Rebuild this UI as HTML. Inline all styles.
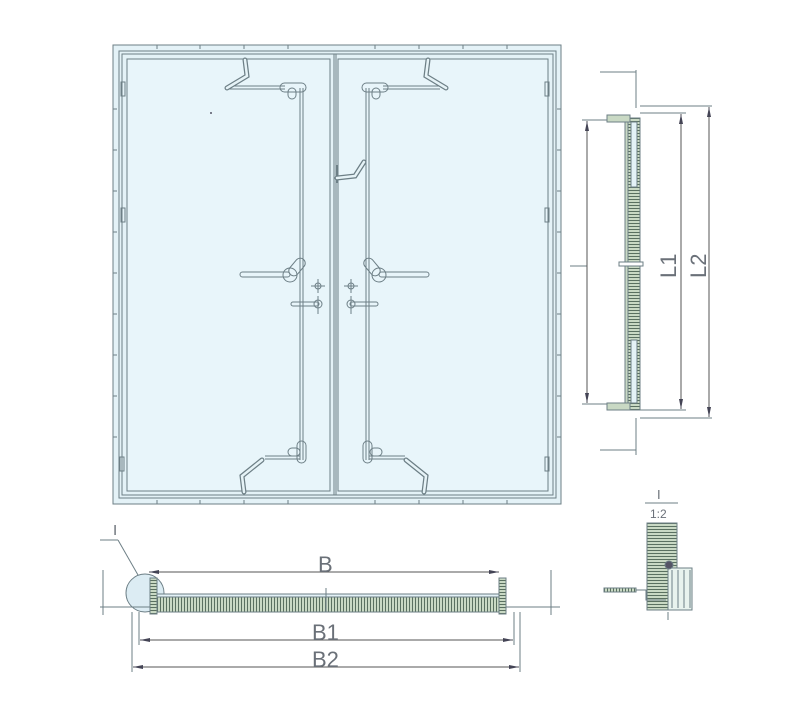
<!DOCTYPE html>
<html><head><meta charset="utf-8"><style>
html,body{margin:0;padding:0;background:#fff;}
svg{display:block;}
text{font-family:"Liberation Sans",sans-serif;fill:#6a7078;}
</style></head><body>
<svg width="800" height="708" viewBox="0 0 800 708" xmlns="http://www.w3.org/2000/svg">
<defs>
<pattern id="hatch" width="3" height="16" patternUnits="userSpaceOnUse">
<rect width="3" height="16" fill="#c9d9c4"/><line x1="1.5" y1="0" x2="1.5" y2="16" stroke="#5a7060" stroke-width="1"/></pattern>
<pattern id="hatchH" width="16" height="3" patternUnits="userSpaceOnUse">
<rect width="16" height="3" fill="#c9d9c4"/><line x1="0" y1="1.5" x2="16" y2="1.5" stroke="#5a7060" stroke-width="1"/></pattern>
<marker id="ar" markerWidth="10" markerHeight="6" refX="10" refY="3" orient="auto" markerUnits="userSpaceOnUse">
<path d="M0,1 L10,3 L0,5z" fill="#445"/></marker>
</defs>
<g stroke="#6d7f86" fill="none" stroke-width="1">
<rect x="113" y="45" width="448" height="459" fill="#e4f2f7"/>
<rect x="119" y="51" width="437" height="447"/>
<rect x="122" y="54" width="431" height="441"/>
<rect x="127" y="59" width="203" height="432" fill="#e8f5fa"/>
<rect x="338" y="59" width="210" height="432" fill="#e8f5fa"/>
<line x1="334" y1="54" x2="334" y2="495"/>
<line x1="336" y1="54" x2="336" y2="495"/>
<rect x="121" y="82" width="4" height="14"/><rect x="121" y="208" width="4" height="14"/><rect x="120" y="457" width="4" height="14"/>
<rect x="545" y="82" width="4" height="14"/><rect x="545" y="208" width="4" height="14"/><rect x="545" y="457" width="4" height="14"/>
<path d="M157,45v4M200,45v4M244,45v4M288,45v4M375,45v4M419,45v4M463,45v4M507,45v4M157,500v4M200,500v4M244,500v4M288,500v4M375,500v4M419,500v4M463,500v4M507,500v4M113,109h4M113,150h4M113,191h4M113,232h4M113,273h4M113,314h4M113,355h4M113,396h4M113,437h4M557,109h4M557,150h4M557,191h4M557,232h4M557,273h4M557,314h4M557,355h4M557,396h4M557,437h4"/>
<line x1="300" y1="88" x2="300" y2="460"/><line x1="303" y1="88" x2="303" y2="460"/>
<line x1="366" y1="88" x2="366" y2="460"/><line x1="369" y1="88" x2="369" y2="460"/>
<line x1="227" y1="86" x2="285" y2="86"/><line x1="227" y1="89" x2="285" y2="89"/>
<line x1="383" y1="86" x2="440" y2="86"/><line x1="383" y1="89" x2="440" y2="89"/>
<line x1="265" y1="456" x2="300" y2="456"/><line x1="265" y1="459" x2="300" y2="459"/>
<line x1="369" y1="456" x2="405" y2="456"/><line x1="369" y1="459" x2="405" y2="459"/>
<rect x="280" y="83" width="26" height="9" rx="4.5"/><rect x="288" y="88" width="8" height="11" rx="4"/>
<rect x="362" y="83" width="26" height="9" rx="4.5"/><rect x="372" y="88" width="8" height="11" rx="4"/>
<rect x="297" y="441" width="9" height="22" rx="4.5"/><rect x="288" y="448" width="12" height="8" rx="4"/>
<rect x="363" y="441" width="9" height="22" rx="4.5"/><rect x="370" y="448" width="12" height="8" rx="4"/>
<rect x="240" y="272" width="50" height="5" rx="2.5"/><circle cx="290" cy="275" r="7"/><rect x="292" y="257" width="10" height="20" rx="5" transform="rotate(40 297 267)"/>
<rect x="379" y="272" width="50" height="5" rx="2.5"/><circle cx="379" cy="275" r="7"/><rect x="367" y="257" width="10" height="20" rx="5" transform="rotate(-40 372 267)"/>
<rect x="291" y="302" width="28" height="4" rx="2"/><circle cx="318" cy="304" r="4"/><line x1="318" y1="296" x2="318" y2="314"/>
<rect x="350" y="302" width="28" height="4" rx="2"/><circle cx="351" cy="304" r="4"/><line x1="351" y1="296" x2="351" y2="314"/>
<circle cx="318" cy="286" r="3"/><path d="M311,286h14M318,279v14"/>
<circle cx="351" cy="286" r="3"/><path d="M344,286h14M351,279v14"/>
<line x1="337" y1="165" x2="337" y2="183"/>
</g>
<g stroke="#6d7f86" stroke-width="5" fill="none" stroke-linecap="round">
<path d="M245,60 L247,76 L227,88"/>
<path d="M428,60 L426,76 L446,88"/>
<path d="M244,492 L242,476 L262,460"/>
<path d="M424,492 L426,476 L406,460"/>
<path d="M337,178 L355,176 L364,162"/>
</g>
<g stroke="#e6f3f7" stroke-width="2.5" fill="none" stroke-linecap="round">
<path d="M245,60 L247,76 L227,88"/>
<path d="M428,60 L426,76 L446,88"/>
<path d="M244,492 L242,476 L262,460"/>
<path d="M424,492 L426,476 L406,460"/>
<path d="M337,178 L355,176 L364,162"/>
</g>
<circle cx="211" cy="113" r="1" fill="#556"/>

<!-- side section -->
<g stroke="#6d7f86" fill="none" stroke-width="1">
<line x1="636" y1="70" x2="636" y2="108"/><line x1="636" y1="418" x2="636" y2="455"/>
<path d="M600,72h36M600,450h36"/>
<rect x="628" y="118" width="12" height="292" fill="url(#hatchH)"/>
<rect x="607" y="115" width="23" height="7" fill="#c9d9c4"/>
<rect x="607" y="403" width="23" height="7" fill="#c9d9c4"/>
<rect x="625" y="122" width="3" height="281" fill="#c9d9c4"/>
<rect x="631" y="122" width="6" height="65" fill="#e4f2f7"/>
<rect x="631" y="340" width="6" height="63" fill="#e4f2f7"/>
<rect x="619" y="262" width="24" height="4" fill="#fff"/>
<line x1="640" y1="106" x2="712" y2="106"/><line x1="640" y1="113" x2="686" y2="113"/>
<line x1="640" y1="410" x2="686" y2="410"/><line x1="640" y1="418" x2="712" y2="418"/>
<line x1="582" y1="120" x2="607" y2="120"/><line x1="582" y1="404" x2="607" y2="404"/>
<line x1="570" y1="266" x2="587" y2="266"/>
</g>
<g stroke="#555" stroke-width="1">
<line x1="587" y1="262" x2="587" y2="121" marker-end="url(#ar)"/><line x1="587" y1="262" x2="587" y2="403" marker-end="url(#ar)"/>
<line x1="681" y1="262" x2="681" y2="114" marker-end="url(#ar)"/><line x1="681" y1="262" x2="681" y2="409" marker-end="url(#ar)"/>
<line x1="709" y1="262" x2="709" y2="107" marker-end="url(#ar)"/><line x1="709" y1="262" x2="709" y2="417" marker-end="url(#ar)"/>
</g>
<text x="0" y="0" font-size="22" transform="translate(676,278) rotate(-90)">L1</text>
<text x="0" y="0" font-size="22" transform="translate(706,278) rotate(-90)">L2</text>

<!-- bottom section -->
<g stroke="#6d7f86" fill="none" stroke-width="1">
<circle cx="145" cy="593" r="19" fill="#dcecf3"/>
<line x1="118" y1="540" x2="138" y2="575"/><line x1="100" y1="540" x2="118" y2="540"/>
<line x1="103" y1="570" x2="103" y2="615"/><line x1="551" y1="570" x2="551" y2="615"/>
<line x1="100" y1="607" x2="150" y2="607"/><line x1="505" y1="607" x2="560" y2="607"/>
<rect x="155" y="597" width="347" height="15" fill="url(#hatch)"/>
<rect x="155" y="594" width="347" height="3" fill="#e4f2f7"/>
<rect x="150" y="578" width="7" height="36" fill="url(#hatchH)"/>
<rect x="499" y="578" width="7" height="36" fill="url(#hatchH)"/>
<line x1="326" y1="588" x2="326" y2="612"/>
<line x1="139" y1="612" x2="139" y2="645"/><line x1="514" y1="612" x2="514" y2="645"/>
<line x1="132" y1="612" x2="132" y2="672"/><line x1="520" y1="612" x2="520" y2="672"/>
</g>
<g stroke="#555" stroke-width="1">
<line x1="326" y1="572" x2="149" y2="572" marker-end="url(#ar)"/><line x1="326" y1="572" x2="499" y2="572" marker-end="url(#ar)"/>
<line x1="326" y1="640" x2="140" y2="640" marker-end="url(#ar)"/><line x1="326" y1="640" x2="513" y2="640" marker-end="url(#ar)"/>
<line x1="326" y1="667" x2="133" y2="667" marker-end="url(#ar)"/><line x1="326" y1="667" x2="519" y2="667" marker-end="url(#ar)"/>
</g>
<text x="113" y="535" font-size="15" font-family="Liberation Serif">I</text>
<text x="318" y="572" font-size="22">B</text>
<text x="312" y="640" font-size="22">B1</text>
<text x="312" y="667" font-size="22">B2</text>

<!-- detail -->
<g stroke="#6d7f86" fill="none" stroke-width="1">
<line x1="645" y1="503" x2="678" y2="503"/>
<rect x="647" y="523" width="30" height="87" fill="url(#hatchH)"/>
<rect x="668" y="568" width="24" height="42" fill="#e8f3ee"/>
<path d="M672,570v38M678,570v38M684,570v38M690,570v38"/>
<circle cx="669" cy="565" r="4" fill="#556"/>
<rect x="604" y="588" width="32" height="4" fill="url(#hatch)"/>
<path d="M636,590h10v10h20M668,612v8"/>
</g>
<text x="657" y="499" font-size="13" font-family="Liberation Serif">I</text>
<text x="650" y="518" font-size="12" font-family="Liberation Serif">1:2</text>
</svg>
</body></html>
